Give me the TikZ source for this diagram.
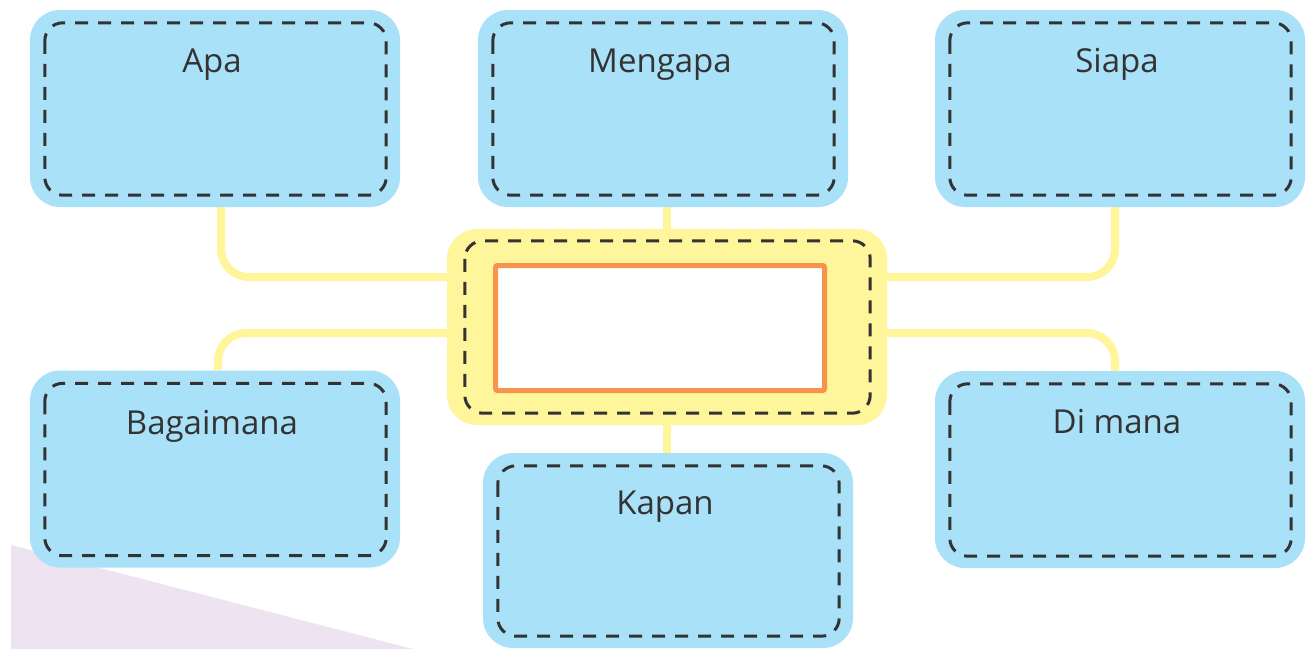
\documentclass[tikz,border=0pt]{standalone}
\usepackage{fontspec}
\setmainfont{Open Sans}
\usetikzlibrary{backgrounds}
\definecolor{boxblue}{HTML}{A9E1F9}
\definecolor{boxyellow}{HTML}{FFF59B}
\definecolor{edgeorange}{HTML}{F7934A}
\definecolor{dashgray}{HTML}{333333}
\definecolor{lavender}{HTML}{EDE3F1}
\tikzset{
  bluebox/.style={fill=boxblue, draw=none, rounded corners=30pt, minimum width=370pt, minimum height=197pt, inner sep=0pt},
  yellowbox/.style={fill=boxyellow, draw=none, rounded corners=30pt, minimum width=440pt, minimum height=196pt, inner sep=0pt},
  answerbox/.style={fill=white, draw=edgeorange, line width=5pt, rounded corners=2pt, minimum width=329pt, minimum height=125pt, inner sep=0pt},
  dashline/.style={draw=dashgray, line width=3pt, dash pattern=on 13pt off 10pt, rounded corners=18pt},
  conn/.style={draw=boxyellow, line width=8pt, rounded corners=28pt},
  lbl/.style={font=\fontsize{33}{36}\selectfont, text=dashgray, anchor=base, inner sep=0pt}
}
\begin{document}
\begin{tikzpicture}[x=1pt,y=-1pt]
\useasboundingbox (0,0) rectangle (1306,649);

% boxes
\node[bluebox] (apa) at (215,108.5) {};
\node[bluebox] (meng) at (663,108.5) {};
\node[bluebox] (siapa) at (1120,108.5) {};
\node[bluebox] (bag) at (215,469) {};
\node[bluebox, minimum height=195pt] (kap) at (668,550.5) {};
\node[bluebox] (dim) at (1120,469.5) {};
\node[yellowbox] (yel) at (667,327) {};

% dashed inner borders
\foreach \b in {apa,meng,siapa,bag,kap,dim}{
  \draw[dashline] ([shift={(15,13)}]\b.north west) rectangle ([shift={(-14,-12)}]\b.south east);
}
\draw[dashline] ([shift={(18,12)}]yel.north west) rectangle ([shift={(-17,-12)}]yel.south east);

\node[answerbox] (ans) at (660,328) {};

% labels
\node[lbl] (tapa) at ([shift={(-3,63)}]apa.north) {Apa};
\node[lbl] (tmeng) at ([shift={(-3,63)}]meng.north) {Mengapa};
\node[lbl] (tsiapa) at ([shift={(-3,63)}]siapa.north) {Siapa};
\node[lbl] (tbag) at ([shift={(-3,64)}]bag.north) {Bagaimana};
\node[lbl] (tkap) at ([shift={(-3,62)}]kap.north) {Kapan};
\node[lbl] (tdim) at ([shift={(-3,63)}]dim.north) {Di mana};

% background and connectors
\begin{pgfonlayer}{background}
\fill[white] (0,0) rectangle (1306,649);
\fill[lavender] (11,545) -- (413,649) -- (11,649) -- cycle;
\draw[conn] ([xshift=6pt]apa.south) |- ([yshift=50pt]yel.west);
\draw[conn] ([xshift=3pt]bag.north) |- ([yshift=-6pt]yel.west);
\draw[conn] ([xshift=-5pt]siapa.south) |- ([yshift=50pt]yel.east);
\draw[conn] ([xshift=-5pt]dim.north) |- ([yshift=-6pt]yel.east);
\draw[conn] (yel.north) -- (yel.north |- meng.south);
\draw[conn] (yel.south) -- (yel.south |- kap.north);
\end{pgfonlayer}
\end{tikzpicture}
\end{document}
